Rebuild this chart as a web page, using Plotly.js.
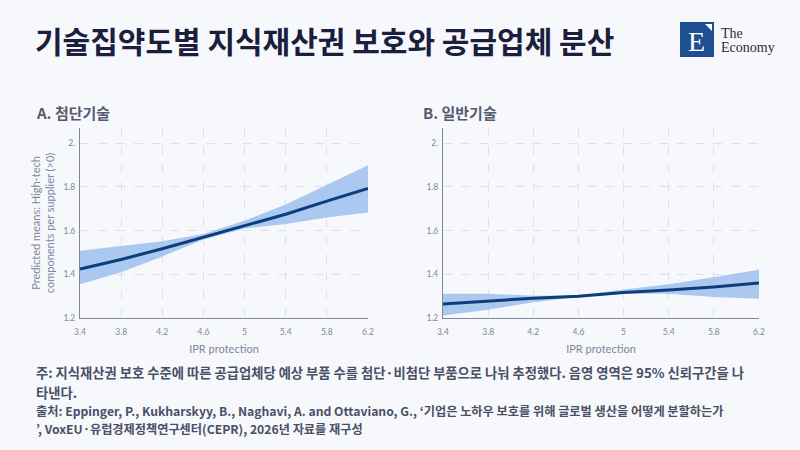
<!DOCTYPE html>
<html>
<head>
<meta charset="utf-8">
<script src="https://cdn.plot.ly/plotly-3.0.1.min.js"></script>
<style>
  html, body { margin: 0; padding: 0; background: #f7f8fc; }
  #chart { width: 800px; height: 450px; }
</style>
</head>
<body>
<div id="chart"></div>
<script>
// IPR protection levels (x)
const iprLevels = [3.4, 3.8, 4.2, 4.6, 5.0, 5.4, 5.8, 6.2];

// A. High-tech components: predicted means and 95% CI
const highTechMean  = [1.424, 1.468, 1.517, 1.570, 1.622, 1.675, 1.735, 1.793];
const highTechUpper = [1.508, 1.530, 1.552, 1.585, 1.645, 1.720, 1.810, 1.900];
const highTechLower = [1.355, 1.410, 1.482, 1.560, 1.610, 1.630, 1.660, 1.683];

// B. Low-tech components: predicted means and 95% CI
const lowTechMean  = [1.264, 1.278, 1.291, 1.300, 1.317, 1.328, 1.342, 1.360];
const lowTechUpper = [1.311, 1.311, 1.302, 1.303, 1.330, 1.355, 1.387, 1.421];
const lowTechLower = [1.212, 1.238, 1.272, 1.296, 1.311, 1.311, 1.296, 1.288];

const xTickVals = [3.4, 3.8, 4.2, 4.6, 5, 5.4, 5.8, 6.2];
const xTickText = ['3.4', '3.8', '4.2', '4.6', '5', '5.4', '5.8', '6.2'];
const yTickVals = [1.2, 1.4, 1.6, 1.8, 2.0];
const yTickText = ['1.2', '1.4', '1.6', '1.8', '2.'];

const noteLines = [
    '주: 지식재산권 보호 수준에 따른 공급업체당 예상 부품 수를 첨단·비첨단 부품으로 나눠 추정했다. 음영 영역은 95% 신뢰구간을 나',
    '타낸다.',
];
const sourceLines = [
    '출처: Eppinger, P., Kukharskyy, B., Naghavi, A. and Ottaviano, G., ‘기업은 노하우 보호를 위해 글로벌 생산을 어떻게 분할하는가',
    '’, VoxEU·유럽경제정책연구센터(CEPR), 2026년 자료를 재구성',
];

const W = 800, H = 450;
const px = x => x / W;
const py = y => 1 - y / H;

const lineColor = '#0d3d7c';
const bandColor = 'rgba(150, 188, 236, 0.8)';
const tickFont = { family: 'Lato, "Noto Sans", sans-serif', size: 8.5, color: '#80869c' };
const axisTitleFont = { family: 'Lato, "Noto Sans", sans-serif', size: 11, color: '#80869c' };
const korean = '"Noto Sans CJK KR", sans-serif';

function panelTraces(mean, upper, lower, xa, ya) {
    return [
        { x: iprLevels, y: lower, xaxis: xa, yaxis: ya, mode: 'lines', line: { width: 0, color: bandColor }, hoverinfo: 'skip', type: 'scatter' },
        { x: iprLevels, y: upper, xaxis: xa, yaxis: ya, mode: 'lines', line: { width: 0, color: bandColor }, fill: 'tonexty', fillcolor: bandColor, hoverinfo: 'skip', type: 'scatter' },
        { x: iprLevels, y: mean, xaxis: xa, yaxis: ya, mode: 'lines', line: { width: 3, color: lineColor }, type: 'scatter' },
    ];
}

function xAxis(domain, anchor) {
    return {
        domain, anchor,
        range: [3.4, 6.2],
        tickvals: xTickVals, ticktext: xTickText,
        tickfont: tickFont,
        ticks: 'outside', ticklen: 6, tickcolor: 'rgba(0,0,0,0)',
        showline: true, linecolor: '#80869c', linewidth: 1,
        showgrid: true, gridcolor: '#dfe1ea', griddash: 'dash', gridwidth: 1,
        zeroline: false,
        title: { text: 'IPR protection', font: axisTitleFont, standoff: 9 },
        fixedrange: true,
    };
}

function yAxis(domain, anchor, titleText) {
    return {
        domain, anchor,
        range: [1.2, 2.07],
        tickvals: yTickVals, ticktext: yTickText,
        tickfont: tickFont,
        ticks: 'outside', ticklen: 2, tickcolor: 'rgba(0,0,0,0)',
        showline: true, linecolor: '#80869c', linewidth: 1,
        showgrid: true, gridcolor: '#dfe1ea', griddash: 'dash', gridwidth: 1,
        zeroline: false,
        title: { text: titleText, font: axisTitleFont, standoff: 6 },
        fixedrange: true,
    };
}

function textNote(text, x, y, size, color, weight) {
    return {
        text, xref: 'paper', yref: 'paper', x: px(x), y: py(y),
        xanchor: 'left', yanchor: 'middle', align: 'left', showarrow: false,
        font: { family: korean, size, color, weight },
    };
}

const data = [
    ...panelTraces(highTechMean, highTechUpper, highTechLower, 'x', 'y'),
    ...panelTraces(lowTechMean, lowTechUpper, lowTechLower, 'x2', 'y2'),
];

const plotY = [py(318), py(128)];

const layout = {
    width: W, height: H,
    margin: { l: 0, r: 0, t: 0, b: 0 },
    paper_bgcolor: '#f7f8fc',
    plot_bgcolor: '#f7f8fc',
    showlegend: false,
    font: { family: korean },
    xaxis: xAxis([px(80), px(368)], 'y'),
    yaxis: yAxis(plotY, 'x', 'Predicted means: High-tech<br>components per supplier (>0)'),
    xaxis2: xAxis([px(443), px(759)], 'y2'),
    yaxis2: yAxis(plotY, 'x2', ''),
    shapes: [
        { type: 'rect', xref: 'paper', yref: 'paper', x0: px(680), x1: px(714), y0: py(57), y1: py(22), fillcolor: '#1d4f91', line: { width: 0 } },
        { type: 'path', xref: 'paper', yref: 'paper', path: `M ${px(705)},${py(24)} L ${px(712)},${py(24)} L ${px(712)},${py(31)} Z`, fillcolor: '#ffffff', line: { width: 0 } },
    ],
    annotations: [
        textNote('<b>기술집약도별 지식재산권 보호와 공급업체 분산</b>', 33, 40, 30, '#1b1e3c'),
        { text: 'E', xref: 'paper', yref: 'paper', x: px(696), y: py(41), xanchor: 'center', yanchor: 'middle', showarrow: false,
          font: { family: '"Liberation Serif", serif', size: 28, color: '#ffffff' } },
        { text: 'The', xref: 'paper', yref: 'paper', x: px(719), y: py(33), xanchor: 'left', yanchor: 'middle', showarrow: false,
          font: { family: '"Liberation Serif", serif', size: 14, color: '#2b2d3a' } },
        { text: 'Economy', xref: 'paper', yref: 'paper', x: px(719), y: py(47), xanchor: 'left', yanchor: 'middle', showarrow: false,
          font: { family: '"Liberation Serif", serif', size: 14, color: '#2b2d3a' } },
        textNote('<b>A. 첨단기술</b>', 34, 112, 15, '#555a70'),
        textNote('<b>B. 일반기술</b>', 421, 112, 15, '#555a70'),
        textNote(noteLines[0], 34, 372.5, 13.3, '#4a4f66', 600),
        textNote(noteLines[1], 34, 392, 13.3, '#4a4f66', 600),
        textNote(sourceLines[0], 34, 410.5, 12.2, '#4a4f66', 600),
        textNote(sourceLines[1], 34, 428.5, 12.2, '#4a4f66', 600),
    ],
};

Plotly.newPlot('chart', data, layout, { displayModeBar: false, staticPlot: true });
</script>
</body>
</html>
